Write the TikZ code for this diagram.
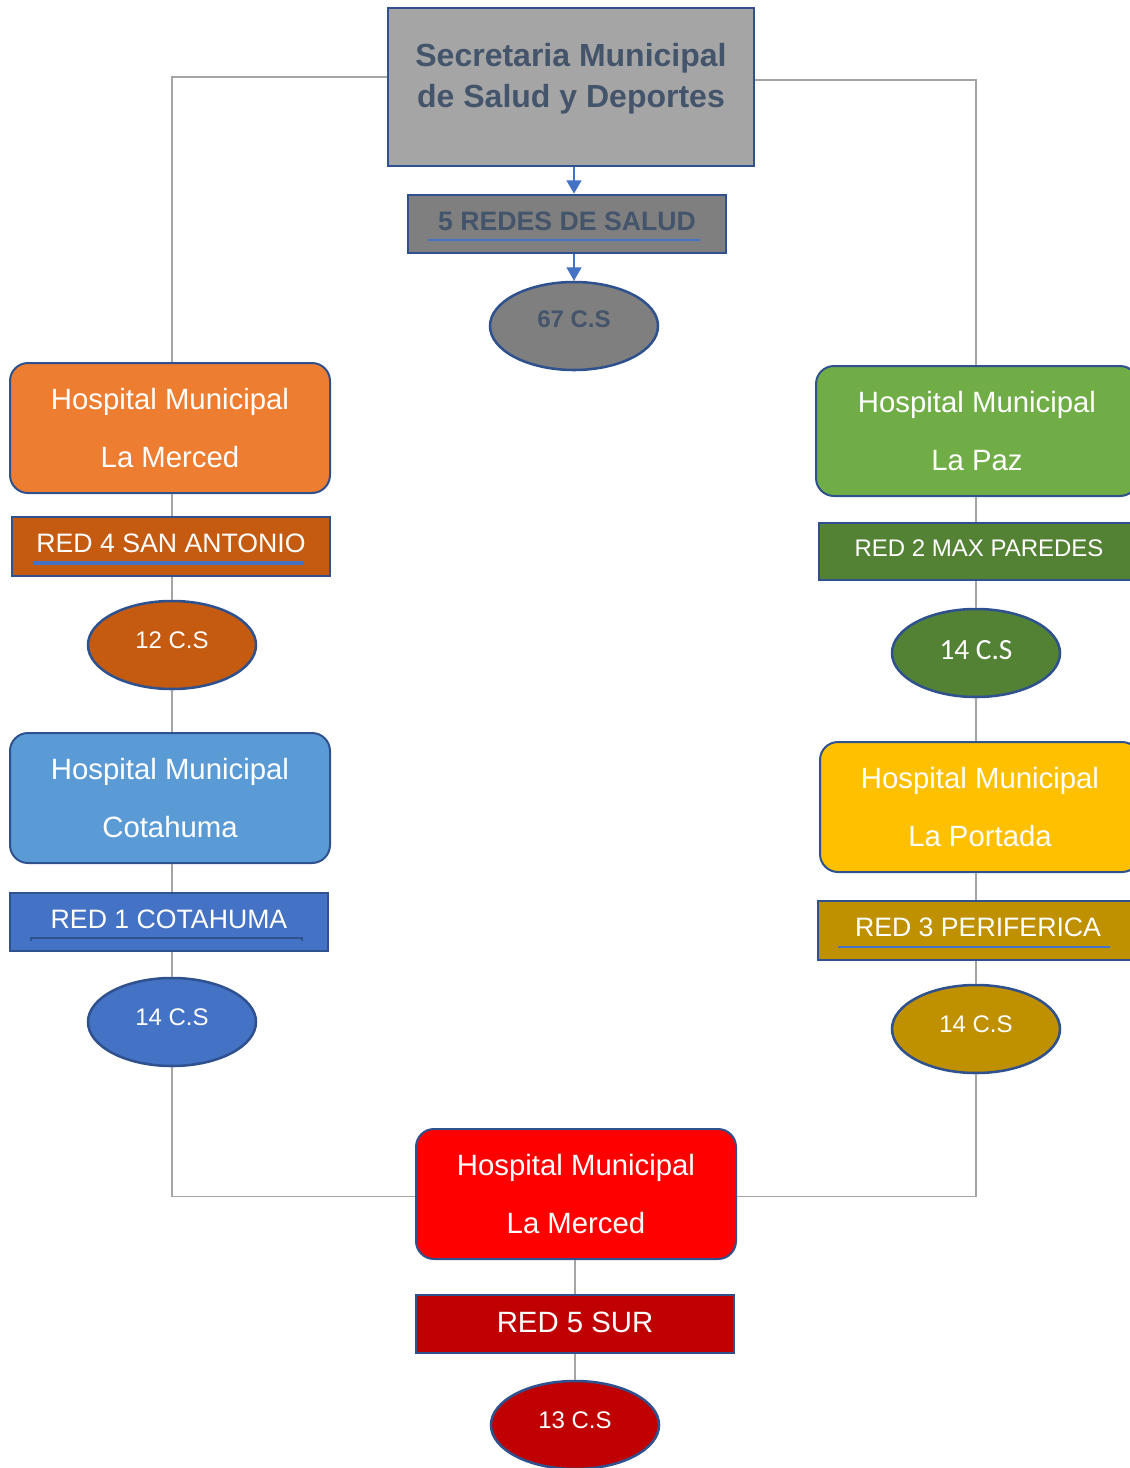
\documentclass[tikz,border=0pt]{standalone}
\usepackage{fontspec}
\setmainfont{Liberation Sans}
\newfontfamily\calib{Carlito}
\usetikzlibrary{shapes.geometric,arrows.meta}
\definecolor{bord}{HTML}{2F528F}
\definecolor{titc}{HTML}{44546A}
\definecolor{connc}{HTML}{A5A5A5}
\definecolor{arrc}{HTML}{4472C4}
\definecolor{gryA}{HTML}{A5A5A5}
\definecolor{gryB}{HTML}{7F7F7F}
\definecolor{orA}{HTML}{ED7D31}
\definecolor{orB}{HTML}{C55A11}
\definecolor{blA}{HTML}{5B9BD5}
\definecolor{blB}{HTML}{4472C4}
\definecolor{grA}{HTML}{70AD47}
\definecolor{grB}{HTML}{548235}
\definecolor{yeA}{HTML}{FFC000}
\definecolor{yeB}{HTML}{BF9000}
\definecolor{rdA}{HTML}{FF0000}
\definecolor{rdB}{HTML}{C00000}
\begin{document}
\begin{tikzpicture}[x=0.75pt,y=-0.75pt,
  box/.style={draw=bord, line width=1.5pt, inner sep=0pt},
  hosp/.style={box, rounded corners=13.5pt, minimum width=240pt, minimum height=97.5pt, text=white, align=center, font=\fontsize{22}{43.5}\selectfont},
  redbox/.style={box, minimum width=238.5pt, minimum height=44pt, text depth=4.5pt, text=white, font=\fontsize{20}{24}\selectfont},
  cs/.style={ellipse, draw=bord, line width=1.9pt, minimum width=126pt, minimum height=66pt, inner sep=0pt, text depth=8pt, text=white, font=\fontsize{18}{22}\selectfont},
  conn/.style={draw=connc, line width=1pt},
  arr/.style={draw=arrc, line width=1.8pt, -{Triangle[length=10pt,width=11pt]}},
  ul/.style={draw=arrc, line width=2pt}]
\useasboundingbox (0,0) rectangle (1130,1468);

% top section
\node[box, fill=gryA, minimum width=274.5pt, minimum height=118.5pt] (sec) at (571,87) {};
\node[text=titc, align=center, font=\fontsize{24}{30.75}\bfseries\selectfont] (sectxt) at (571,79) {Secretaria Municipal\\de Salud y Deportes};
\node[redbox, fill=gryB, text=titc, font=\fontsize{20}{24}\bfseries\selectfont] (redes) at (567,224) {5 REDES DE SALUD};
\draw[ul, line width=1.5pt] (428,240) -- (700,240);
\node[cs, fill=gryB, text=titc, text depth=10pt, font=\fontsize{18}{22}\bfseries\selectfont] (cs67) at (574,326) {67 C.S};
\draw[arr] (sec.south -| cs67.center) -- (redes.north -| cs67.center);
\draw[arr] (redes.south -| cs67.center) -- (cs67.north);

% left column
\node[hosp, fill=orA] (h4) at (170,428) {Hospital Municipal\\La Merced};
\node[redbox, fill=orB, minimum height=44.25pt] (r4) at (171,546.5) {RED 4 SAN ANTONIO};
\draw[ul, line width=2.4pt] (33,563) -- (304,563);
\node[cs, fill=orB] (e4) at (172,645) {12 C.S};
\node[hosp, fill=blA] (h1) at (170,798) {Hospital Municipal\\Cotahuma};
\node[redbox, fill=blB] (r1) at (169,922) {RED 1 COTAHUMA};
\draw[draw=bord, line width=1.2pt] (31,941) -- (31,938) -- (302,938) -- (302,941);
\node[cs, fill=blB] (e1) at (172,1022) {14 C.S};

% right column
\node[hosp, fill=grA, minimum width=241.5pt] (h2) at (977,431) {Hospital Municipal\\La Paz};
\node[redbox, fill=grB, minimum width=240pt, minimum height=42.75pt, font=\fontsize{18}{22}\selectfont] (r2) at (979,551.5) {RED 2 MAX PAREDES};
\node[cs, fill=grB, text depth=5pt, font=\calib\fontsize{22}{26}\selectfont] (e2) at (976,653) {14 C.S};
\node[hosp, fill=yeA] (h3) at (980,807) {Hospital Municipal\\La Portada};
\node[redbox, fill=yeB, minimum width=240pt, minimum height=44.25pt] (r3) at (978,930.5) {RED 3 PERIFERICA};
\draw[ul, line width=2.2pt] (838,947) -- (1110,947);
\node[cs, fill=yeB] (e3) at (976,1029) {14 C.S};

% bottom
\node[hosp, fill=rdA] (h5) at (576,1194) {Hospital Municipal\\La Merced};
\node[redbox, fill=rdB, text depth=2pt, font=\fontsize{22}{26}\selectfont] (r5) at (575,1324) {RED 5 SUR};
\node[cs, fill=rdB] (e5) at (575,1425) {13 C.S};

% gray connectors
\draw[conn] ([yshift=7.5pt]sec.west) -| (h4.north -| e4.center);
\draw[conn] ([yshift=5.25pt]sec.east) -| (h2.north -| e2.center);
\draw[conn] (h4.south -| e4.center) -- (r4.north -| e4.center);
\draw[conn] (r4.south -| e4.center) -- (e4.north);
\draw[conn] (e4.south) -- (h1.north -| e4.center);
\draw[conn] (h1.south -| e4.center) -- (r1.north -| e4.center);
\draw[conn] (r1.south -| e1.center) -- (e1.north);
\draw[conn] (e1.south) |- ([yshift=-2pt]h5.west);
\draw[conn] (h2.south -| e2.center) -- (r2.north -| e2.center);
\draw[conn] (r2.south -| e2.center) -- (e2.north);
\draw[conn] (e2.south) -- (h3.north -| e2.center);
\draw[conn] (h3.south -| e2.center) -- (r3.north -| e2.center);
\draw[conn] (r3.south -| e3.center) -- (e3.north);
\draw[conn] (e3.south) |- ([yshift=-2pt]h5.east);
\draw[conn] (h5.south -| e5.center) -- (r5.north -| e5.center);
\draw[conn] (r5.south -| e5.center) -- (e5.north);
\end{tikzpicture}
\end{document}
